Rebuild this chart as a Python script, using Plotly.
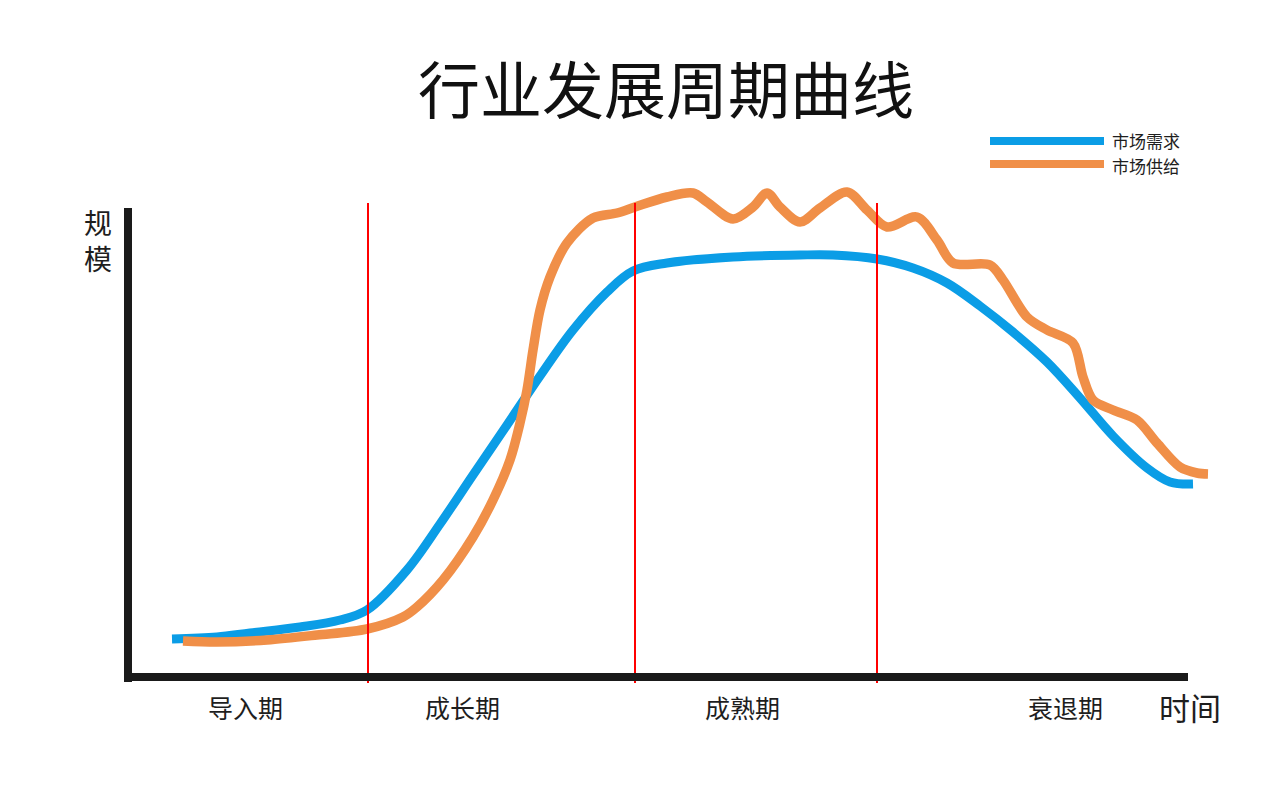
import plotly.graph_objects as go

# ---- data (time units, scale units) ----
demand_t = [4.4, 8.9, 12.2, 17.2, 21.2, 23.9, 27.9, 31.2, 34.5, 37.9, 41.2, 44.5, 47.9, 50.5,
            53.9, 60.5, 67.2, 70.5, 74.9, 78.5, 81.9, 85.2, 88.5, 91.9, 95.2, 98.5, 101.9, 104.2, 106.5]
demand_v = [7.8, 8.2, 9.0, 10.2, 11.6, 13.6, 21.6, 30.8, 40.6, 50.6, 60.4, 69.6, 77.2, 81.4,
            83.0, 84.2, 84.6, 84.6, 83.8, 82.0, 79.0, 74.4, 69.2, 63.2, 56.0, 48.4, 42.0, 39.2, 38.8]

supply_t = [5.5, 8.9, 13.9, 18.9, 23.9, 27.5, 28.9, 31.5, 34.5, 36.5, 38.2, 39.2, 39.9, 40.5,
            41.2, 42.2, 43.9, 46.5, 48.9, 50.7, 53.9, 56.5, 57.9, 60.5, 62.5, 63.9, 65.2, 67.2,
            69.2, 71.9, 73.9, 75.9, 78.9, 80.9, 82.5, 86.2, 87.5, 89.9, 91.9, 94.5, 95.5, 96.5,
            98.5, 100.9, 102.9, 105.2, 106.9, 108.0]
supply_v = [7.4, 7.2, 7.6, 8.6, 9.8, 12.2, 14.2, 19.6, 28.2, 35.6, 43.6, 51.0, 57.6, 65.6,
            73.6, 80.2, 87.0, 92.0, 93.0, 94.2, 96.2, 97.0, 95.2, 91.8, 94.2, 97.0, 94.2, 91.2,
            94.0, 97.2, 93.6, 90.2, 92.2, 87.6, 83.0, 82.6, 79.6, 72.2, 69.6, 67.0, 60.2, 55.6,
            53.6, 51.6, 47.0, 42.2, 41.0, 40.8]

phase_bounds = [24.0, 50.7, 74.9]
phase_labels = ["导入期", "成长期", "成熟期", "衰退期"]
phase_label_t = [11.7, 33.4, 61.4, 93.7]

series_names = ["市场需求", "市场供给"]
series_colors = ["#0b9de6", "#f08f48"]

title_text = "行业发展周期曲线"
x_title = "时间"
y_title = ["规", "模"]

# axis extents (data units)
x_max = 106.0
y_max = 94.0

FONT = "Noto Sans CJK SC, Noto Sans, sans-serif"
TXT = "#1e1e1e"

fig = go.Figure()
fig.add_trace(go.Scatter(x=demand_t, y=demand_v, mode="lines", name=series_names[0],
                         line=dict(color=series_colors[0], width=9, shape="spline", smoothing=1.0),
                         showlegend=False))
fig.add_trace(go.Scatter(x=supply_t, y=supply_v, mode="lines", name=series_names[1],
                         line=dict(color=series_colors[1], width=9.5, shape="spline", smoothing=0.9),
                         showlegend=False))

shapes = []
# phase dividers
for b in phase_bounds:
    shapes.append(dict(type="line", xref="x", yref="y", x0=b, x1=b, y0=-1.0, y1=95.0,
                       line=dict(color="#ff0000", width=2), layer="above"))
# axes
shapes.append(dict(type="line", xref="x", yref="y", x0=0, x1=0, y0=-0.8, y1=y_max,
                   line=dict(color="#1a1a1a", width=8), layer="above"))
shapes.append(dict(type="line", xref="x", yref="y", x0=-0.4, x1=x_max, y0=0.2, y1=0.2,
                   line=dict(color="#1a1a1a", width=8), layer="above"))

# legend (custom, top right)
leg_line_y = [1 - 141 / 803, 1 - 164 / 803]
leg_text_y = [1 - 140 / 803, 1 - 165.5 / 803]
for i in range(2):
    shapes.append(dict(type="line", xref="paper", yref="paper", x0=990 / 1280, x1=1104 / 1280,
                       y0=leg_line_y[i], y1=leg_line_y[i], line=dict(color=series_colors[i], width=8)))

annotations = []
for i in range(2):
    annotations.append(dict(xref="paper", yref="paper", x=1110 / 1280, y=leg_text_y[i], xanchor="left",
                            yanchor="middle", text=series_names[i], showarrow=False,
                            font=dict(family=FONT, size=17, color=TXT)))
for lab, t in zip(phase_labels, phase_label_t):
    annotations.append(dict(xref="x", yref="paper", x=t, y=1 - 707 / 803, xanchor="center",
                            yanchor="middle", text=lab, showarrow=False,
                            font=dict(family=FONT, size=25, color=TXT)))
annotations.append(dict(xref="paper", yref="paper", x=1190 / 1280, y=1 - 706 / 803, xanchor="center",
                        yanchor="middle", text=x_title, showarrow=False,
                        font=dict(family=FONT, size=31, color=TXT)))
annotations.append(dict(xref="paper", yref="paper", x=98 / 1280, y=1 - 240 / 803, xanchor="center",
                        yanchor="middle", text="<br>".join(y_title), showarrow=False,
                        font=dict(family=FONT, size=28, color=TXT)))
annotations.append(dict(xref="paper", yref="paper", x=666 / 1280, y=1 - 87 / 803, xanchor="center",
                        yanchor="middle", text=title_text, showarrow=False,
                        font=dict(family=FONT, size=62, color="#111111")))

fig.update_layout(
    width=1280, height=803,
    margin=dict(l=0, r=0, t=0, b=0),
    paper_bgcolor="white", plot_bgcolor="white",
    xaxis=dict(range=[-12.8, 115.2], visible=False, fixedrange=True),
    yaxis=dict(range=[-25.0, 135.6], visible=False, fixedrange=True),
    shapes=shapes, annotations=annotations,
    showlegend=False,
)

fig.write_html("out.html", config={"displayModeBar": False})
